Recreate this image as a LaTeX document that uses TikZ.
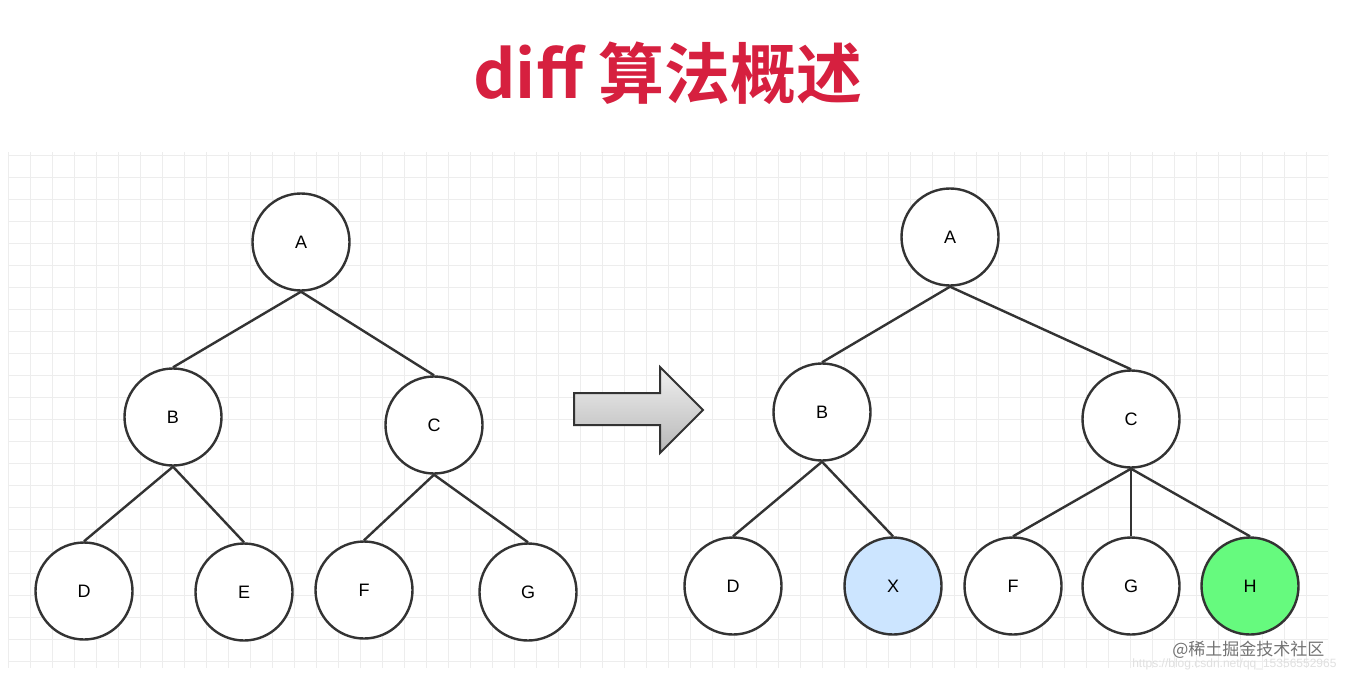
\documentclass[tikz,border=0pt]{standalone}
\usepackage{fontspec}
\setmainfont{Liberation Sans}
\newfontfamily\cjk{Noto Sans CJK SC}
\newfontfamily\cjkb{Noto Sans CJK SC Bold}
\definecolor{ttl}{HTML}{D6203F}
\definecolor{xblue}{HTML}{CCE5FF}
\definecolor{hgreen}{HTML}{66FA7E}
\tikzset{
  nd/.style={circle,draw=black!80,line width=2.4pt,fill=white,minimum size=97pt,inner sep=0pt,font=\fontsize{18}{18}\selectfont},
  ed/.style={draw=black!80,line width=2.4pt},
}
\begin{document}
\begin{tikzpicture}[x=1pt,y=-1pt]
\useasboundingbox (0,0) rectangle (1348,681);
\fill[white] (0,0) rectangle (1348,681);
\begin{scope}
\clip (8,152) rectangle (1328,668);
\foreach \i in {0,...,60} \draw[black!7,line width=1pt] (8+22*\i,152) -- (8+22*\i,668);
\foreach \j in {0,...,24} \draw[black!7,line width=1pt] (8,155+22*\j) -- (1328,155+22*\j);
\end{scope}
\node[font=\cjkb\fontsize{66}{66}\selectfont,text=ttl] (title) at (668,73) {diff 算法概述};
% left tree
\node[nd] (A) at (301,242) {A};
\node[nd] (B) at (173,417) {B};
\node[nd] (C) at (434,425) {C};
\node[nd] (D) at (84,591) {D};
\node[nd] (E) at (244,592) {E};
\node[nd] (F) at (364,590) {F};
\node[nd] (G) at (528,592) {G};
\draw[ed] (A.south) -- (B.north);
\draw[ed] (A.south) -- (C.north);
\draw[ed] (B.south) -- (D.north);
\draw[ed] (B.south) -- (E.north);
\draw[ed] (C.south) -- (F.north);
\draw[ed] (C.south) -- (G.north);
% arrow
\draw[black!80,line width=2pt,line join=miter,top color=black!6,bottom color=black!28]
  (574,393) -- (660,393) -- (660,367) -- (703,410) -- (660,453) -- (660,425) -- (574,425) -- cycle;
% right tree
\node[nd] (A2) at (950,237) {A};
\node[nd] (B2) at (822,412) {B};
\node[nd] (C2) at (1131,419) {C};
\node[nd] (D2) at (733,586) {D};
\node[nd,fill=xblue] (X2) at (893,586) {X};
\node[nd] (F2) at (1013,586) {F};
\node[nd] (G2) at (1131,586) {G};
\node[nd,fill=hgreen] (H2) at (1250,586) {H};
\draw[ed] (A2.south) -- (B2.north);
\draw[ed] (A2.south) -- (C2.north);
\draw[ed] (B2.south) -- (D2.north);
\draw[ed] (B2.south) -- (X2.north);
\draw[ed] (C2.south) -- (F2.north);
\draw[ed] (C2.south) -- (G2.north);
\draw[ed] (C2.south) -- (H2.north);
\node[font=\fontsize{12}{12}\selectfont,text=black!12,anchor=east] (url) at (1340,664) {https://blog.csdn.net/qq\_15356552965};
\node[font=\cjk\fontsize{17}{17}\selectfont,text=black!55,anchor=east] (wm) at (1328,650) {@稀土掘金技术社区};
\end{tikzpicture}
\end{document}
